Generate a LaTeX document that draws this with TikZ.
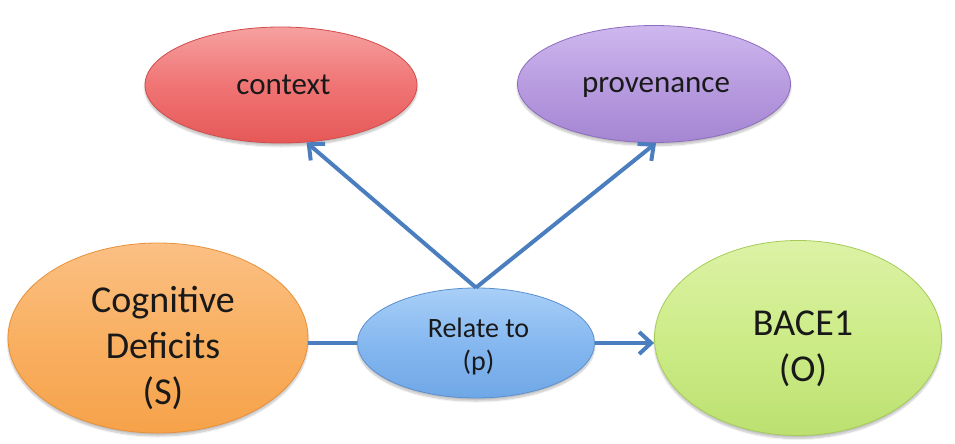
\documentclass[tikz,border=0pt]{standalone}
\usepackage{fontspec}
\setmainfont{Carlito}
\usetikzlibrary{shapes.geometric,arrows.meta,shadows.blur}

\definecolor{redTop}{HTML}{F6A0A0}
\definecolor{redMid}{HTML}{F07474}
\definecolor{redBot}{HTML}{E65858}
\definecolor{redLine}{HTML}{D24C4C}
\definecolor{purTop}{HTML}{CEB8EE}
\definecolor{purMid}{HTML}{B89CE0}
\definecolor{purBot}{HTML}{A486D2}
\definecolor{purLine}{HTML}{8E6CC0}
\definecolor{oraTop}{HTML}{FBC084}
\definecolor{oraMid}{HTML}{F9B062}
\definecolor{oraBot}{HTML}{F6A24A}
\definecolor{oraLine}{HTML}{E8913A}
\definecolor{bluTop}{HTML}{A8CFF7}
\definecolor{bluMid}{HTML}{86B8F0}
\definecolor{bluBot}{HTML}{6FA7E6}
\definecolor{bluLine}{HTML}{5A8FD0}
\definecolor{grnTop}{HTML}{DCF2A6}
\definecolor{grnMid}{HTML}{CDEC88}
\definecolor{grnBot}{HTML}{BCE070}
\definecolor{grnLine}{HTML}{A5CC58}
\definecolor{linkBlue}{HTML}{4A7EBE}

\tikzset{
  bubble/.style={ellipse, inner sep=0pt, line width=0.8pt,
    blur shadow={shadow xshift=0pt, shadow yshift=-3pt, shadow opacity=25, shadow blur steps=8}},
  redbub/.style={bubble, draw=redLine, top color=redTop, bottom color=redBot, middle color=redMid},
  purbub/.style={bubble, draw=purLine, top color=purTop, bottom color=purBot, middle color=purMid},
  orabub/.style={bubble, draw=oraLine, top color=oraTop, bottom color=oraBot, middle color=oraMid},
  blubub/.style={bubble, draw=bluLine, top color=bluTop, bottom color=bluBot, middle color=bluMid},
  grnbub/.style={bubble, draw=grnLine, top color=grnTop, bottom color=grnBot, middle color=grnMid},
  caption/.style={inner sep=0pt, align=center, text=black!90},
  small/.style={caption, font=\fontsize{31}{38}\selectfont},
  mid/.style={caption, font=\fontsize{28}{33}\selectfont},
  big/.style={caption, font=\fontsize{38}{46}\selectfont},
  link/.style={draw=linkBlue, line width=4pt},
  linkarrow/.style={link, -{Straight Barb[length=12pt, width=22pt, line width=4pt]}}
}

\begin{document}
\begin{tikzpicture}[x=1pt, y=-1pt]
  \useasboundingbox (0,0) rectangle (955,444);

  % ellipses
  \node[redbub, minimum width=272pt, minimum height=116pt] (ctx) at (281,85) {};
  \node[purbub, minimum width=273pt, minimum height=117pt] (prov) at (654,84) {};
  \node[orabub, minimum width=300pt, minimum height=190pt] (subj) at (158,338) {};
  \node[blubub, minimum width=237pt, minimum height=110pt] (rel) at (476,343) {};
  \node[grnbub, minimum width=287pt, minimum height=195pt] (obj) at (798,338) {};

  % captions (struts keep the line boxes uniform)
  \node[small] (ctxtext) at (283.5,86.5) {\strut context};
  \node[small] (provtext) at (656,84.5) {\strut provenance};
  \node[big] (subjtext) at (163,349) {\strut Cognitive\\\strut Deficits\\\strut (S)};
  \node[mid] (reltext) at (478.5,347) {\strut Relate to\\\strut (p)};
  \node[big] (objtext) at (803,349) {\strut BACE1\\\strut (O)};

  % connectors
  \draw[link] (rel.west -| subj.east) -- (rel.west);
  \draw[linkarrow] (rel.east) -- (rel.east -| obj.west);
  \draw[linkarrow] (rel.north) -- (ctx.-66);
  \draw[linkarrow] (rel.north) -- (prov.-88);
\end{tikzpicture}
\end{document}
